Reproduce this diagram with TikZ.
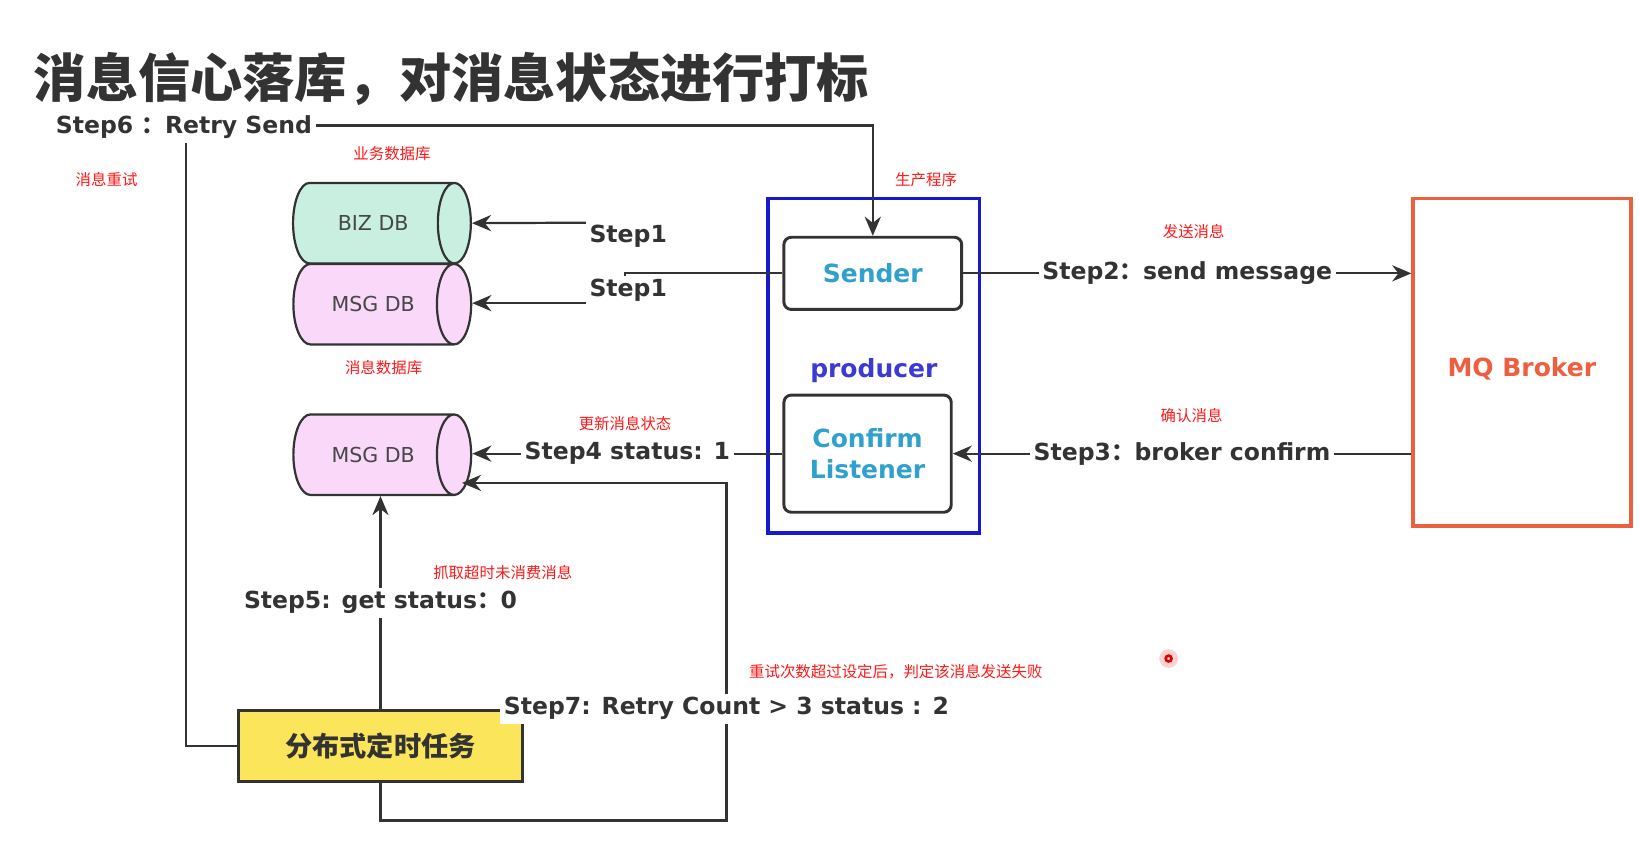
\documentclass[tikz,border=0pt]{standalone}
\usepackage{fontspec}
\setmainfont{DejaVu Sans}
\newfontfamily\cjk{Noto Sans CJK SC}
\usetikzlibrary{arrows.meta, positioning, shapes.geometric}
\definecolor{titlegray}{RGB}{51,51,51}
\definecolor{linegray}{RGB}{51,51,51}
\definecolor{notered}{RGB}{255,24,24}
\definecolor{prodblue}{RGB}{24,24,205}
\definecolor{senderblue}{RGB}{48,160,204}
\definecolor{brokerorange}{RGB}{236,96,64}
\definecolor{bizgreen}{RGB}{201,239,224}
\definecolor{msgpink}{RGB}{249,216,249}
\definecolor{taskyellow}{RGB}{251,229,90}

\tikzset{
  flow/.style={draw=linegray, line width=0.6pt, -{Stealth[length=5.2pt,width=4.4pt]}},
  steplabel/.style={fill=white, inner sep=1pt, text=linegray, font=\bfseries\fontsize{6.4}{7}\selectfont},
  note/.style={text=notered, font=\cjk\fontsize{4.2}{5}\selectfont},
  db/.style={cylinder, draw=linegray, line width=0.6pt, minimum width=0.77cm, minimum height=1.7cm,
    shape aspect=2.2, inner sep=0pt, text=black!72, font=\fontsize{5.6}{7}\selectfont},
  unit/.style={draw=linegray, line width=0.8pt, rounded corners=2pt, fill=white, align=center,
    text=senderblue, font=\bfseries\fontsize{6.8}{8.2}\selectfont}
}

\begin{document}
\begin{tikzpicture}[x=0.01cm, y=-0.01cm]
  \useasboundingbox (0,0) rectangle (1568,805);

  % title
  \node[anchor=west, text=titlegray, font=\cjk\bfseries\fontsize{14.2}{16}\selectfont] (title) at (20,75) {消息信心落库，对消息状态进行打标};

  % databases
  \node[db, fill=bizgreen] (biz) at (357,213.5) {BIZ DB};
  \node[db, fill=msgpink] (msg) at (357,291) {MSG DB};
  \node[db, fill=msgpink] (msgb) at (357,435) {MSG DB};

  % producer with its two parts
  \node[draw=prodblue, line width=1pt, minimum width=2.02cm, minimum height=3.2cm, text=prodblue!85,
    text height=7.5pt, font=\bfseries\fontsize{6.8}{8.2}\selectfont] (prod) at (836,350) {producer};
  \node[unit, minimum width=1.7cm, minimum height=0.69cm] (sender) at (835,261.5) {Sender};
  \node[unit, minimum width=1.6cm, minimum height=1.12cm] (listener) at (830,434) {Confirm\\Listener};

  \node[draw=brokerorange, line width=1pt, minimum width=2.08cm, minimum height=3.13cm, text=brokerorange,
    text height=9pt, text depth=1.3pt, font=\bfseries\fontsize{6.8}{8.2}\selectfont] (broker) at (1456,346.5) {MQ Broker};

  \node[draw=linegray, line width=0.8pt, fill=taskyellow, minimum width=2.72cm, minimum height=0.68cm,
    text=titlegray, font=\cjk\bfseries\fontsize{7.4}{8.4}\selectfont] (task) at (364,714) {分布式定时任务};

  % Step1
  \coordinate (bizstart) at (565,213);
  \coordinate (splitdb) at (598,290);
  \draw[flow] (bizstart) -- (biz.east);
  \draw[flow] (sender.west) -| (splitdb) -- (splitdb -| msg.east);
  \node[steplabel] (step1a) at (601,226) {Step1};
  \node[steplabel] (step1b) at (601,278) {Step1};

  % Step2 / Step3 / Step4
  \draw[flow] (sender.east) -- (sender.east -| broker.west)
    node[steplabel, midway] (step2) {Step2{\cjk ：}send message};
  \draw[flow] (listener.east -| broker.west) -- (listener.east)
    node[steplabel, midway] (step3) {Step3{\cjk ：}broker confirm};
  \draw[flow] (listener.west) -- (listener.west -| msgb.east)
    node[steplabel, midway] (step4) {Step4 status: 1};

  % Step5
  \draw[flow] (task.north) -- (task.north |- msgb.south)
    node[steplabel, midway] (step5) {Step5: get status{\cjk ：}0};

  % Step6 and Step7 loops
  \coordinate (retrycorner) at (178,120);
  \coordinate (retryturn) at (695,785);
  \coordinate (msgin) at (442,462);
  \draw[flow] (task.west) -| (retrycorner) -| (sender.north);
  \draw[flow] (task.south) |- (retryturn) |- (msgin);
  \node[steplabel] (step6) at (176,122) {Step6 {\cjk ：}Retry Send};
  \node[steplabel] (step7) at (695,678) {Step7: Retry Count > 3 status : 2};

  % red notes
  \foreach \name/\x/\y/\txt in {n1/102/172/消息重试, n2/375/147/业务数据库, n3/367/352/消息数据库,
      n4/886/172/生产程序, n5/1142/222/发送消息, n6/1140/398/确认消息, n7/598/405/更新消息状态,
      n8/481/548/抓取超时未消费消息, n9/857/643/{重试次数超过设定后，判定该消息发送失败}}{
    \node[note] (\name) at (\x,\y) {\txt};
  }

  % cursor mark
  \fill[red!18] (1118,630) circle (9);
  \draw[red!85!black, line width=0.7pt] (1118,630) circle (2.8);
\end{tikzpicture}
\end{document}
